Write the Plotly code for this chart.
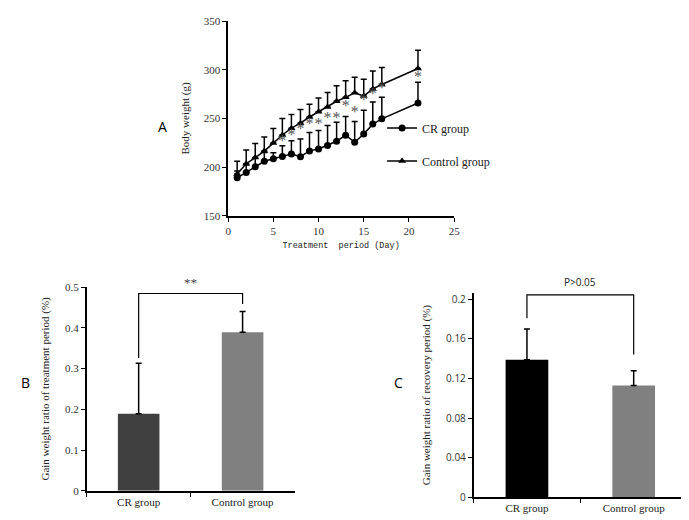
import plotly.graph_objects as go

W, H = 689, 520

# ---------------- Panel A data ----------------
days = [1, 2, 3, 4, 5, 6, 7, 8, 9, 10, 11, 12, 13, 14, 15, 16, 17, 21]
cr_weight = [189, 194.5, 200.5, 206, 208.7, 210.9, 213.6, 210.8, 216.7, 218.6, 222.2, 226.6, 232.8, 225.6, 234.1, 244.2, 249.6, 265.9]
cr_sd = [7, 8, 9, 9, 6, 11, 13.5, 18, 19, 19, 20.5, 19.5, 19.2, 21.4, 24.4, 22.8, 22.2, 21.2]
ctrl_weight = [193, 203.5, 209.9, 216.5, 224.7, 233, 240, 245.2, 251.5, 257, 261.7, 267.7, 271.7, 276.3, 273, 280.4, 284.9, 301.3]
ctrl_sd = [13, 14.1, 14.3, 14.5, 15, 17, 14, 14, 13, 14, 15, 16, 17, 16, 17.4, 18.4, 17.5, 18.9]
star_x = [6, 7, 8, 9, 10, 11, 12, 13, 14, 15, 16, 17, 21]
star_y = [226, 232, 238, 243.7, 243.7, 249.7, 249.7, 262, 256, 267.7, 274.4, 280.4, 291.5]
star_text = ["*"] * len(star_x)

# ---------------- Panel B data ----------------
groups = ["CR group", "Control group"]
b_values = [0.189, 0.389]
b_sd = [0.124, 0.051]
b_colors = ["#404040", "#808080"]
b_bracket_y = [0.326, 0.484, 0.484, 0.458]
b_sig = "**"

# ---------------- Panel C data ----------------
c_values = [0.139, 0.113]
c_sd = [0.031, 0.015]
c_colors = ["#000000", "#808080"]
c_bracket_y = [0.181, 0.2045, 0.2045, 0.1442]
c_sig = "P>0.05"


def px_x(p):
    return p / W


def px_y(p):
    return 1 - p / H


serif = "Liberation Serif"
sans = "Open Sans"
mono = "Liberation Mono"

fig = go.Figure()

# Panel A traces
fig.add_trace(go.Scatter(
    x=days, y=cr_weight, mode="lines+markers", name="CR group",
    line=dict(color="black", width=1.5),
    marker=dict(symbol="circle", size=7, color="black"),
    error_y=dict(type="data", array=cr_sd, arrayminus=[0] * len(cr_sd), symmetric=False,
                 color="black", thickness=1.5, width=3),
    xaxis="x", yaxis="y", legendgroup="a", cliponaxis=False,
))
fig.add_trace(go.Scatter(
    x=days, y=ctrl_weight, mode="lines+markers", name="Control group",
    line=dict(color="black", width=1.5),
    marker=dict(symbol="triangle-up", size=7, color="black"),
    error_y=dict(type="data", array=ctrl_sd, arrayminus=[0] * len(ctrl_sd), symmetric=False,
                 color="black", thickness=1.5, width=3),
    xaxis="x", yaxis="y", legendgroup="b", cliponaxis=False,
))
fig.add_trace(go.Scatter(
    x=star_x, y=star_y, mode="text", text=star_text, showlegend=False,
    textfont=dict(family=serif, size=16, color="#555555"),
    xaxis="x", yaxis="y", hoverinfo="skip",
))

# Panel B
fig.add_trace(go.Bar(
    x=groups, y=b_values, marker=dict(color=b_colors, line=dict(width=0)),
    width=0.4, showlegend=False,
    error_y=dict(type="data", array=b_sd, arrayminus=[0, 0], symmetric=False,
                 color="black", thickness=1.5, width=3),
    xaxis="x2", yaxis="y2",
))
fig.add_trace(go.Scatter(
    x=[groups[0], groups[0], groups[1], groups[1]], y=b_bracket_y, mode="lines",
    line=dict(color="black", width=1.2), showlegend=False, xaxis="x2", yaxis="y2",
    cliponaxis=False, hoverinfo="skip",
))

# Panel C
fig.add_trace(go.Bar(
    x=groups, y=c_values, marker=dict(color=c_colors, line=dict(width=0)),
    width=0.4, showlegend=False,
    error_y=dict(type="data", array=c_sd, arrayminus=[0, 0], symmetric=False,
                 color="black", thickness=1.5, width=3),
    xaxis="x3", yaxis="y3",
))
fig.add_trace(go.Scatter(
    x=[groups[0], groups[0], groups[1], groups[1]], y=c_bracket_y, mode="lines",
    line=dict(color="black", width=1.2), showlegend=False, xaxis="x3", yaxis="y3",
    cliponaxis=False, hoverinfo="skip",
))

axis_common = dict(showgrid=False, zeroline=False, showline=True, linecolor="black",
                   linewidth=1.5, ticks="outside", tickcolor="black", ticklen=4, tickwidth=1.2)

c_top = 0.2065
c_dom_top = 495.7 - (495.7 - 292.7) * c_top / 0.2

fig.update_layout(
    width=W, height=H,
    margin=dict(l=0, r=0, t=0, b=0),
    paper_bgcolor="white", plot_bgcolor="white",
    showlegend=True,
    legend=dict(x=px_x(376), y=px_y(102), xanchor="left", yanchor="top",
                font=dict(family=serif, size=12, color="#222"),
                tracegroupgap=14, traceorder="grouped", itemwidth=30,
                bgcolor="rgba(0,0,0,0)"),
    xaxis=dict(domain=[px_x(220), px_x(449)], range=[0, 25], tickvals=[0, 5, 10, 15, 20, 25],
               anchor="y", tickfont=dict(family=serif, size=11, color="#333"),
               title=dict(text="Treatment  period (Day)", font=dict(family=mono, size=8.5, color="#222"),
                          standoff=6),
               **axis_common),
    yaxis=dict(domain=[px_y(207), px_y(7.3)], range=[150, 350], tickvals=[150, 200, 250, 300, 350],
               anchor="x", tickfont=dict(family=serif, size=11, color="#333"),
               title=dict(text="Body weight (g)", font=dict(family=serif, size=11, color="#222"),
                          standoff=12),
               **axis_common),
    xaxis2=dict(domain=[px_x(76.7), px_x(287.3)], anchor="y2", type="category",
                tickson="boundaries", tickfont=dict(family=serif, size=11, color="#222"),
                range=[-0.5, 1.5], **axis_common),
    yaxis2=dict(domain=[px_y(489), px_y(280)], range=[0, 0.5], anchor="x2",
                tickvals=[0, 0.1, 0.2, 0.3, 0.4, 0.5], ticktext=["0", "0.1", "0.2", "0.3", "0.4", "0.5"],
                tickfont=dict(family=serif, size=11, color="#333"),
                title=dict(text="Gain weight ratio of treatment period (%)",
                           font=dict(family=serif, size=11, color="#222"), standoff=13),
                **axis_common),
    xaxis3=dict(domain=[px_x(468.7), px_x(685)], anchor="y3", type="category",
                tickson="boundaries", tickfont=dict(family=serif, size=11, color="#222"),
                range=[-0.5, 1.5], **axis_common),
    yaxis3=dict(domain=[px_y(495.7), px_y(c_dom_top)], range=[0, c_top], anchor="x3",
                tickvals=[0, 0.04, 0.08, 0.12, 0.16, 0.2],
                ticktext=["0", "0.04", "0.08", "0.12", "0.16", "0.2"],
                tickfont=dict(family=sans, size=10, color="#333"),
                title=dict(text="Gain weight ratio of recovery period (%)",
                           font=dict(family=serif, size=11, color="#222"), standoff=13),
                **axis_common),
    annotations=[
        dict(text="A", x=px_x(147), y=px_y(104), xref="paper", yref="paper", showarrow=False,
             font=dict(family=sans, size=14, color="black")),
        dict(text="B", x=px_x(8), y=px_y(390), xref="paper", yref="paper", showarrow=False,
             font=dict(family=sans, size=14, color="black")),
        dict(text="C", x=px_x(393), y=px_y(390), xref="paper", yref="paper", showarrow=False,
             font=dict(family=sans, size=14, color="black")),
        dict(text=b_sig, x=0.5, y=b_bracket_y[1], xref="x2", yref="y2", yanchor="bottom",
             showarrow=False, yshift=2, font=dict(family=serif, size=13, color="#444")),
        dict(text=c_sig, x=0.5, y=c_bracket_y[1], xref="x3", yref="y3", yanchor="bottom",
             showarrow=False, yshift=4, font=dict(family=sans, size=10, color="#222")),
    ],
)

fig.write_html("out.html")
